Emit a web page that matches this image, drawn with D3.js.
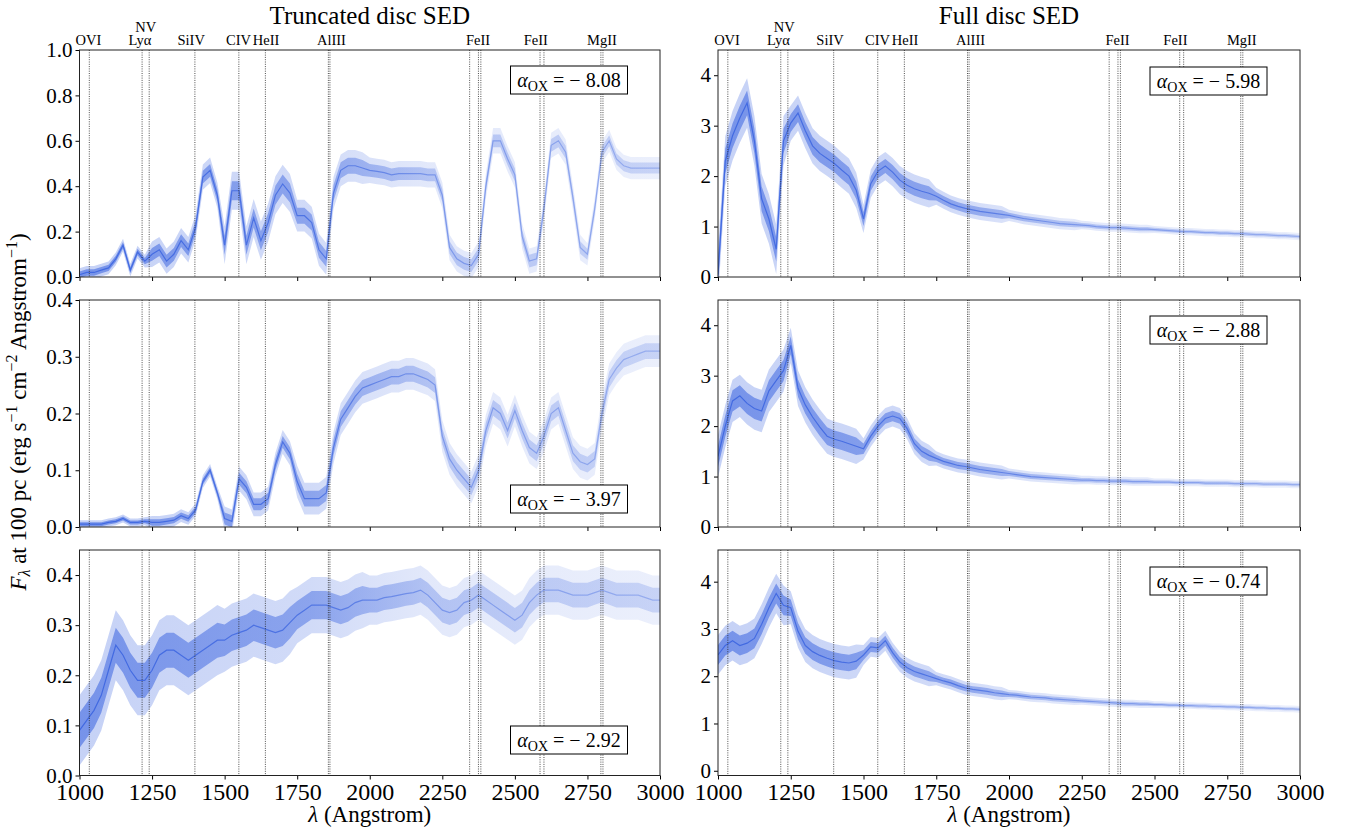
<!DOCTYPE html>
<html>
<head>
<meta charset="utf-8">
<script src="https://cdn.jsdelivr.net/npm/d3@7"></script>
<style>
  body { margin: 0; background: #fff; }
  text { font-family: "Liberation Serif", serif; fill: #000; }
</style>
</head>
<body>
<svg id="chart"></svg>
<script>
// wavelength grid (Angstrom)
const wave = [1000,1025,1050,1075,1100,1125,1150,1175,1200,1225,1250,1275,1300,1325,1350,1375,1400,1425,1450,1475,
  1500,1525,1550,1575,1600,1625,1650,1675,1700,1725,1750,1775,1800,1825,1850,1875,1900,1925,1950,1975,
  2000,2025,2050,2075,2100,2125,2150,2175,2200,2225,2250,2275,2300,2325,2350,2375,2400,2425,2450,2475,
  2500,2525,2550,2575,2600,2625,2650,2675,2700,2725,2750,2775,2800,2825,2850,2875,2900,2925,2950,2975,3000]

// truncated disc SEDs
const truncA = [0.01,0.02,0.02,0.03,0.04,0.08,0.14,0.03,0.11,0.07,0.10,0.12,0.07,0.10,0.16,0.12,0.22,0.44,0.47,0.36,
  0.14,0.38,0.38,0.14,0.26,0.16,0.24,0.36,0.41,0.37,0.27,0.27,0.24,0.12,0.08,0.37,0.47,0.49,0.49,0.48,
  0.47,0.465,0.46,0.45,0.455,0.455,0.455,0.455,0.45,0.45,0.36,0.13,0.08,0.06,0.05,0.10,0.40,0.60,0.60,0.52,
  0.45,0.18,0.07,0.08,0.30,0.58,0.60,0.55,0.35,0.13,0.10,0.30,0.55,0.60,0.52,0.49,0.48,0.48,0.48,0.48,0.48]
const truncB = [0.005,0.005,0.005,0.005,0.008,0.01,0.015,0.008,0.008,0.01,0.008,0.008,0.01,0.012,0.02,0.015,0.03,0.08,0.10,0.06,
  0.015,0.01,0.085,0.07,0.04,0.04,0.05,0.11,0.15,0.13,0.08,0.05,0.05,0.05,0.06,0.14,0.19,0.21,0.23,0.245,
  0.25,0.255,0.26,0.265,0.265,0.27,0.27,0.265,0.26,0.25,0.16,0.12,0.10,0.085,0.07,0.10,0.17,0.21,0.20,0.17,
  0.205,0.17,0.14,0.13,0.16,0.20,0.21,0.17,0.13,0.115,0.11,0.12,0.20,0.26,0.28,0.295,0.30,0.305,0.31,0.31,0.31]
const truncC = [0.09,0.11,0.13,0.16,0.21,0.26,0.24,0.21,0.19,0.19,0.21,0.24,0.25,0.25,0.24,0.23,0.24,0.25,0.26,0.27,
  0.27,0.28,0.285,0.29,0.30,0.295,0.29,0.285,0.29,0.305,0.32,0.33,0.34,0.34,0.34,0.335,0.33,0.335,0.345,0.35,
  0.35,0.35,0.355,0.357,0.36,0.363,0.365,0.37,0.36,0.345,0.33,0.325,0.33,0.345,0.35,0.36,0.35,0.34,0.33,0.32,
  0.31,0.32,0.345,0.36,0.37,0.37,0.37,0.365,0.36,0.36,0.36,0.365,0.37,0.365,0.36,0.36,0.36,0.36,0.355,0.35,0.35]

// full disc SEDs
const fullA = [0.05,2.3,2.8,3.15,3.45,2.7,1.55,1.15,0.55,2.7,3.05,3.25,2.9,2.6,2.45,2.35,2.25,2.12,2.0,1.72,
  1.15,1.85,2.1,2.2,2.08,1.92,1.82,1.75,1.7,1.66,1.6,1.52,1.45,1.4,1.36,1.33,1.3,1.28,1.26,1.24,
  1.22,1.19,1.16,1.14,1.12,1.1,1.08,1.06,1.05,1.04,1.03,1.02,1.0,0.99,0.98,0.98,0.97,0.96,0.95,0.95,
  0.94,0.93,0.92,0.91,0.9,0.9,0.89,0.88,0.88,0.87,0.87,0.86,0.86,0.85,0.84,0.84,0.83,0.82,0.82,0.81,0.8]
const fullB = [1.4,2.0,2.5,2.6,2.45,2.35,2.3,2.7,2.9,3.1,3.6,2.75,2.42,2.18,1.98,1.8,1.74,1.7,1.65,1.6,
  1.55,1.8,2.0,2.15,2.2,2.15,1.95,1.65,1.5,1.42,1.36,1.3,1.26,1.22,1.2,1.17,1.14,1.12,1.1,1.08,
  1.06,1.04,1.02,1.0,0.99,0.98,0.97,0.96,0.95,0.94,0.93,0.93,0.92,0.92,0.91,0.91,0.91,0.9,0.9,0.9,
  0.89,0.89,0.89,0.88,0.88,0.88,0.88,0.87,0.87,0.87,0.87,0.86,0.86,0.86,0.86,0.85,0.85,0.85,0.85,0.84,0.84]
const fullC = [2.45,2.65,2.75,2.65,2.7,2.8,3.1,3.45,3.75,3.5,3.45,2.95,2.65,2.52,2.44,2.38,2.33,2.3,2.28,2.32,
  2.45,2.62,2.6,2.75,2.5,2.3,2.18,2.1,2.05,2.0,1.95,1.9,1.86,1.8,1.75,1.72,1.7,1.68,1.65,1.63,
  1.61,1.6,1.58,1.56,1.55,1.54,1.52,1.51,1.5,1.49,1.48,1.47,1.46,1.45,1.44,1.43,1.42,1.42,1.41,1.41,
  1.4,1.4,1.39,1.39,1.38,1.38,1.37,1.37,1.36,1.36,1.35,1.35,1.34,1.34,1.33,1.33,1.32,1.32,1.31,1.31,1.3]

// scatter half-width per 250 A block
const noiseTruncA = [0.02,0.04,0.06,0.05,0.04,0.04,0.04,0.035]
const noiseTruncB = [0.005,0.008,0.015,0.02,0.02,0.02,0.02,0.02]
const noiseTruncC = [0.05,0.05,0.045,0.04,0.035,0.035,0.035,0.035]
const noiseFullA = [0.35,0.25,0.2,0.12,0.08,0.06,0.05,0.05]
const noiseFullB = [0.3,0.25,0.15,0.1,0.07,0.06,0.05,0.05]
const noiseFullC = [0.3,0.25,0.15,0.1,0.07,0.06,0.05,0.05]

const alphaTrunc = ["8.08", "3.97", "2.92"]
const alphaFull = ["5.98", "2.88", "0.74"]

// emission lines
const lineWaves = [1033.8,1215.7,1240.1,1397.6,1549.0,1640.4,1857.4,1862.8,2344.2,2374.5,2382.8,2586.7,2600.2,2796.4,2803.5]
const labelNames = ["OVI","Ly\u03b1","NV","SiIV","CIV","HeII","AlIII","FeII","FeII","MgII"]
const labelWaves = [1031,1208,1228,1385,1548,1643,1868,2373,2572,2800]

const xTicks = [1000,1250,1500,1750,2000,2250,2500,2750,3000]

const width = 1358, height = 834
const svg = d3.select("#chart").attr("width", width).attr("height", height)
const defs = svg.append("defs")

const cols = [
  {x0: 79.5, x1: 660, title: "Truncated disc SED", series: [truncA, truncB, truncC],
   noise: [noiseTruncA, noiseTruncB, noiseTruncC], alpha: alphaTrunc,
   domains: [[0, 1.0], [0, 0.4], [0, 0.45]],
   ticks: [[0,0.2,0.4,0.6,0.8,1.0],[0,0.1,0.2,0.3,0.4],[0,0.1,0.2,0.3,0.4]], fmt: d3.format(".1f"),
   boxes: [[431, 16], [431, 185], [431, 176]]},
  {x0: 718, x1: 1300, title: "Full disc SED", series: [fullA, fullB, fullC],
   noise: [noiseFullA, noiseFullB, noiseFullC], alpha: alphaFull,
   domains: [[0, 4.5], [0, 4.5], [-0.1, 4.67]],
   ticks: [[0,1,2,3,4],[0,1,2,3,4],[0,1,2,3,4]], fmt: d3.format("d"),
   boxes: [[432, 17], [432, 16], [432, 17]]}
]
const rows = [{y0: 50, y1: 277}, {y0: 300, y1: 527}, {y0: 550, y1: 775.5}]
const blue = "#4169e1"

cols.forEach((col, ci) => {
  const w = col.x1 - col.x0
  const x = d3.scaleLinear().domain([1000, 3000]).range([0, w])

  // fading opacity towards long wavelengths
  const grad = defs.append("linearGradient").attr("id", "fade" + ci)
    .attr("gradientUnits", "userSpaceOnUse")
    .attr("x1", 0).attr("x2", w).attr("y1", 0).attr("y2", 0)
  grad.append("stop").attr("offset", 0).attr("stop-color", blue).attr("stop-opacity", 1)
  grad.append("stop").attr("offset", 0.4).attr("stop-color", blue).attr("stop-opacity", 0.8)
  grad.append("stop").attr("offset", 0.6).attr("stop-color", blue).attr("stop-opacity", 0.5)
  grad.append("stop").attr("offset", 1).attr("stop-color", blue).attr("stop-opacity", 0.35)

  svg.append("text")
    .attr("x", (col.x0 + col.x1) / 2).attr("y", 24)
    .attr("text-anchor", "middle").attr("font-size", 25)
    .text(col.title)

  rows.forEach((row, ri) => {
    const h = row.y1 - row.y0
    const y = d3.scaleLinear().domain(col.domains[ri]).range([h, 0])
    const g = svg.append("g").attr("transform", `translate(${col.x0},${row.y0})`)
    const clipId = `clip${ci}${ri}`
    defs.append("clipPath").attr("id", clipId)
      .append("rect").attr("width", w).attr("height", h)

    const flux = col.series[ri]
    const nz = d3.scaleQuantize().domain([1000, 3000]).range(col.noise[ri])
    const pts = wave.map((d, i) => ({w: d, f: flux[i], n: nz(d)}))

    const plot = g.append("g").attr("clip-path", `url(#${clipId})`)
    plot.append("path").datum(pts)
      .attr("fill", `url(#fade${ci})`).attr("fill-opacity", 0.3)
      .attr("d", d3.area().x(d => x(d.w)).y0(d => y(d.f - 1.4 * d.n)).y1(d => y(d.f + 1.4 * d.n)))
    plot.append("path").datum(pts)
      .attr("fill", `url(#fade${ci})`).attr("fill-opacity", 0.6)
      .attr("d", d3.area().x(d => x(d.w)).y0(d => y(d.f - 0.7 * d.n)).y1(d => y(d.f + 0.7 * d.n)))
    plot.append("path").datum(pts)
      .attr("fill", "none").attr("stroke", `url(#fade${ci})`).attr("stroke-width", 1.2)
      .attr("d", d3.line().x(d => x(d.w)).y(d => y(d.f)))

    // emission line markers
    g.selectAll(".em").data(lineWaves).join("line")
      .attr("x1", d => x(d)).attr("x2", d => x(d))
      .attr("y1", 0).attr("y2", h)
      .attr("stroke", "#222").attr("stroke-width", 0.8)
      .attr("stroke-dasharray", "1,1.3")

    if (ri === 0) {
      g.selectAll(".lab").data(labelNames).join("text")
        .attr("x", (d, i) => x(labelWaves[i]))
        .attr("y", (d, i) => d === "NV" ? -18 : -5)
        .attr("text-anchor", "middle").attr("font-size", 14.5)
        .text(d => d)
    }

    // axes
    const yAxis = g.append("g")
      .call(d3.axisLeft(y).tickValues(col.ticks[ri]).tickFormat(col.fmt).tickSize(4).tickPadding(3))
    yAxis.select(".domain").remove()
    yAxis.selectAll("text").attr("font-size", 21).attr("font-family", "DejaVu Serif, serif")

    const xAxis = g.append("g").attr("transform", `translate(0,${h})`)
      .call(d3.axisBottom(x).tickValues(xTicks).tickSize(4).tickPadding(3)
        .tickFormat(ri === 2 ? d3.format("d") : ""))
    xAxis.select(".domain").remove()
    xAxis.selectAll("text").attr("font-size", 24).attr("font-family", "Liberation Serif, serif")

    g.append("rect").attr("width", w).attr("height", h)
      .attr("fill", "none").attr("stroke", "#222").attr("stroke-width", 1)

    // alpha_OX box
    const [bx, by] = col.boxes[ri]
    const box = g.append("g").attr("transform", `translate(${bx},${by})`)
    box.append("rect").attr("width", 117).attr("height", 28)
      .attr("fill", "#fff").attr("stroke", "#000").attr("stroke-width", 1)
    const t = box.append("text").attr("x", 58.5).attr("y", 21).attr("text-anchor", "middle")
      .attr("font-size", 20)
    t.append("tspan").attr("font-style", "italic").text("\u03b1")
    t.append("tspan").attr("font-size", 14).attr("dy", 4).text("OX")
    t.append("tspan").attr("dy", -4).text(" = \u2212 " + col.alpha[ri])

    if (ri === 2) {
      const xl = svg.append("text")
        .attr("x", (col.x0 + col.x1) / 2).attr("y", 822)
        .attr("text-anchor", "middle").attr("font-size", 23)
      xl.append("tspan").attr("font-style", "italic").text("\u03bb")
      xl.append("tspan").text(" (Angstrom)")
    }
  })
})

// shared y label
const yl = svg.append("text")
  .attr("transform", "translate(26,412) rotate(-90)")
  .attr("text-anchor", "middle").attr("font-size", 23)
yl.append("tspan").attr("font-style", "italic").text("F")
yl.append("tspan").attr("font-style", "italic").attr("font-size", 16).attr("dy", 4).text("\u03bb")
yl.append("tspan").attr("dy", -4).text(" at 100 pc (erg s")
yl.append("tspan").attr("font-size", 16).attr("dy", -9).text("\u22121")
yl.append("tspan").attr("dy", 9).text(" cm")
yl.append("tspan").attr("font-size", 16).attr("dy", -9).text("\u22122")
yl.append("tspan").attr("dy", 9).text(" Angstrom")
yl.append("tspan").attr("font-size", 16).attr("dy", -9).text("\u22121")
yl.append("tspan").attr("dy", 9).text(")")
</script>
</body>
</html>
